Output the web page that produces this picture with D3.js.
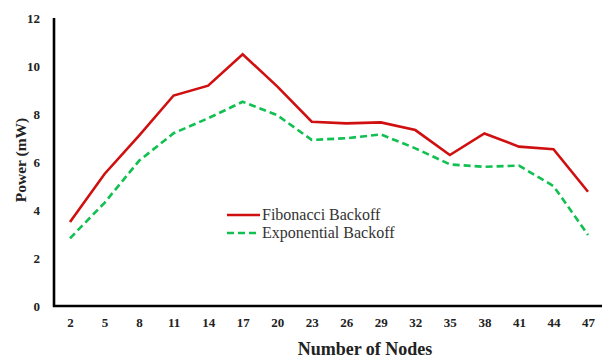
<!DOCTYPE html>
<html>
<head>
<meta charset="utf-8">
<script src="https://cdn.jsdelivr.net/npm/d3@7"></script>
<style>
  body { margin: 0; background: #fff; }
  svg { display: block; }
</style>
</head>
<body>
<div id="chart"></div>
<script>
var nodes = ['2','5','8','11','14','17','20','23','26','29','32','35','38','41','44','47'];
var fibonacci = [3.5, 5.5, 7.1, 8.77, 9.18, 10.49, 9.15, 7.68, 7.61, 7.65, 7.33, 6.29, 7.19, 6.64, 6.53, 4.76];
var exponential = [2.82, 4.3, 6.05, 7.2, 7.82, 8.51, 7.95, 6.92, 6.99, 7.15, 6.57, 5.9, 5.8, 5.85, 5.0, 2.96];
var yTicks = [0, 2, 4, 6, 8, 10, 12];

var width = 602, height = 358;
var margin = {top: 18, right: 0, bottom: 52, left: 54};

var svg = d3.select('#chart').append('svg')
  .attr('width', width).attr('height', height);

var x = d3.scalePoint().domain(nodes)
  .range([70, 588]);
var y = d3.scaleLinear().domain([0, 12])
  .range([height - margin.bottom, margin.top]);

var serif = '"Liberation Serif", "Times New Roman", serif';

// axes
var yAxis = d3.axisLeft(y).tickValues(yTicks).tickSize(0).tickPadding(14);
var xAxis = d3.axisBottom(x).tickSize(0).tickPadding(12);

var gy = svg.append('g')
  .attr('transform', 'translate(' + margin.left + ',0)')
  .call(yAxis);
var gx = svg.append('g')
  .attr('transform', 'translate(0,' + y(0) + ')')
  .call(xAxis);
gx.select('.domain').remove();
gy.select('.domain').remove();

svg.append('line')
  .attr('x1', margin.left).attr('x2', margin.left)
  .attr('y1', y(12)).attr('y2', y(0) + 1)
  .attr('stroke', '#000').attr('stroke-width', 2.6);
svg.append('line')
  .attr('x1', margin.left - 1).attr('x2', width)
  .attr('y1', y(0)).attr('y2', y(0))
  .attr('stroke', '#000').attr('stroke-width', 2.6);

svg.selectAll('.tick text')
  .attr('font-family', serif)
  .attr('font-size', 13)
  .attr('font-weight', 'bold')
  .attr('fill', '#222');

// lines
var line = d3.line()
  .x(function(d, i){ return x(nodes[i]); })
  .y(function(d){ return y(d); });

svg.append('path').datum(fibonacci)
  .attr('d', line)
  .attr('fill', 'none')
  .attr('stroke', '#d01010')
  .attr('stroke-width', 2.6);

svg.append('path').datum(exponential)
  .attr('d', line)
  .attr('fill', 'none')
  .attr('stroke', '#10c050')
  .attr('stroke-width', 2.6)
  .attr('stroke-dasharray', '7,4');

// legend
var legend = [
  {name: 'Fibonacci Backoff', color: '#d01010', dash: null},
  {name: 'Exponential Backoff', color: '#10c050', dash: '7,4'}
];
var lg = svg.append('g').attr('transform', 'translate(227,215)');
legend.forEach(function(d, i){
  lg.append('line')
    .attr('x1', 0).attr('x2', 33)
    .attr('y1', i * 18).attr('y2', i * 18)
    .attr('stroke', d.color).attr('stroke-width', 2.6)
    .attr('stroke-dasharray', d.dash);
  lg.append('text')
    .attr('x', 35).attr('y', i * 18 + 5)
    .attr('font-family', serif)
    .attr('font-size', 16)
    .attr('fill', '#333')
    .text(d.name);
});

// titles
svg.append('text')
  .attr('x', 365).attr('y', 355)
  .attr('text-anchor', 'middle')
  .attr('font-family', serif)
  .attr('font-size', 18)
  .attr('font-weight', 'bold')
  .attr('fill', '#222')
  .text('Number of Nodes');

svg.append('text')
  .attr('transform', 'translate(26,160) rotate(-90)')
  .attr('text-anchor', 'middle')
  .attr('font-family', serif)
  .attr('font-size', 15.5)
  .attr('font-weight', 'bold')
  .attr('fill', '#222')
  .text('Power (mW)');
</script>
</body>
</html>
